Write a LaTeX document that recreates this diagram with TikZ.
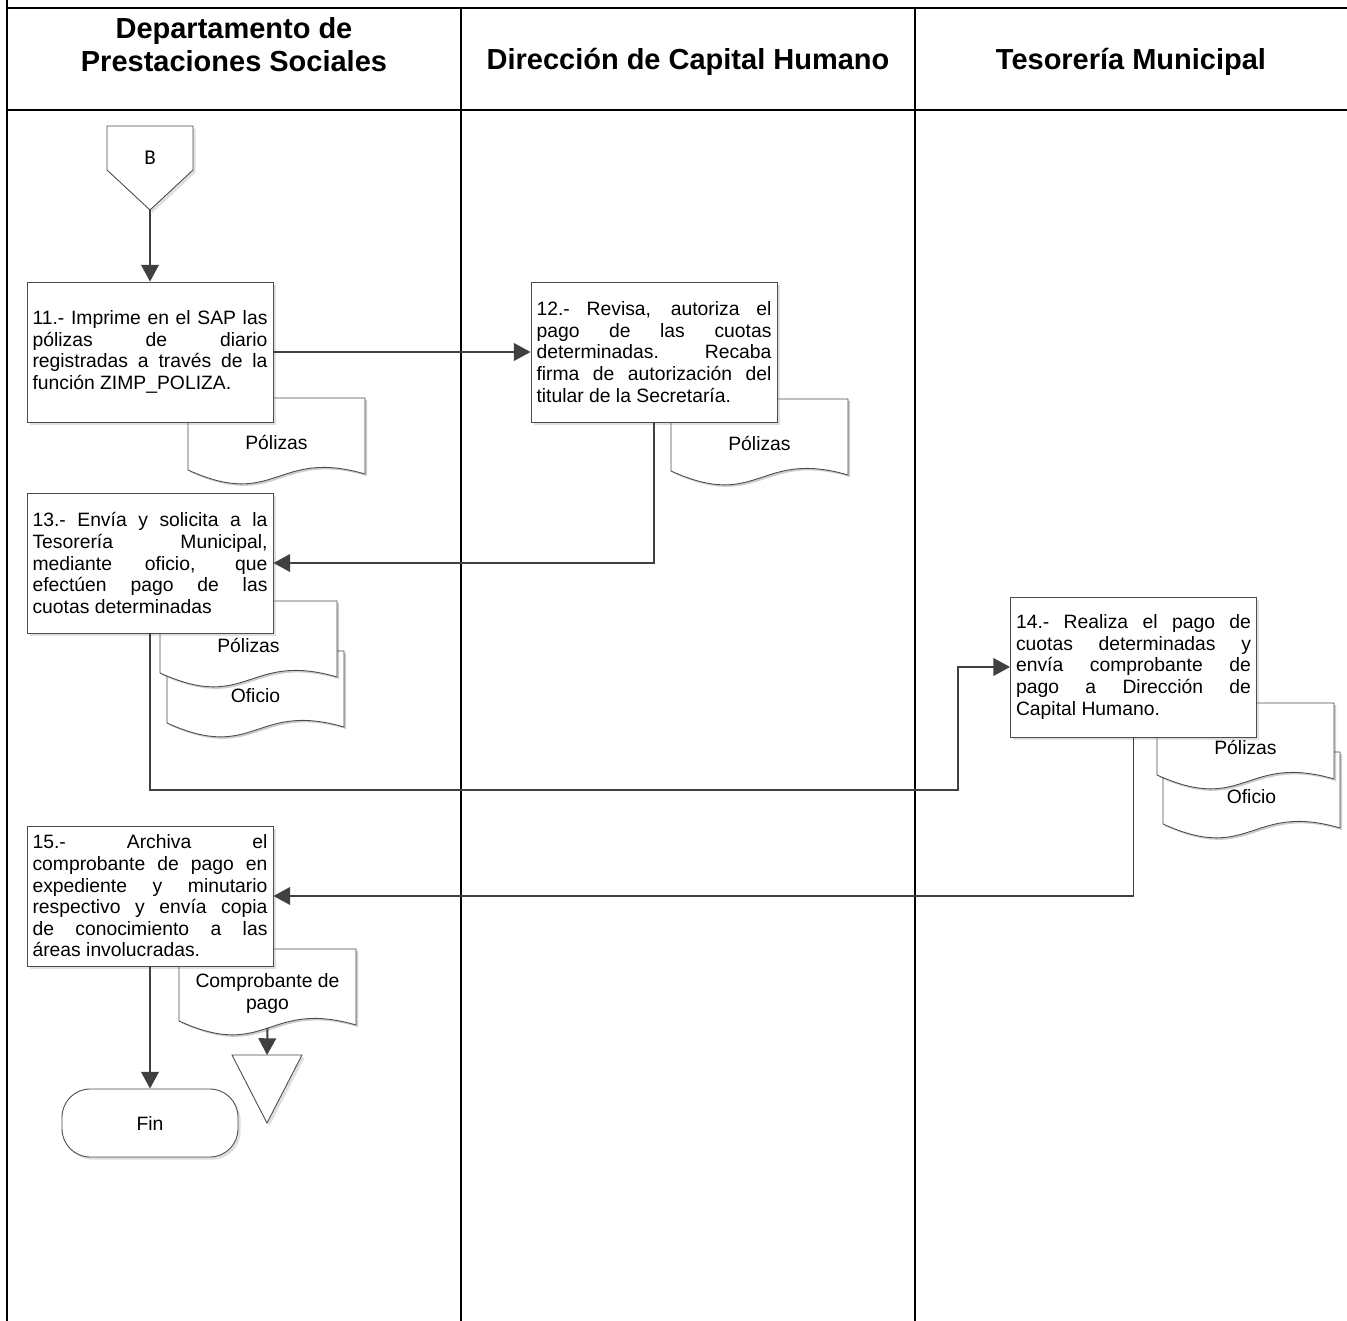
\documentclass[tikz,border=0pt]{standalone}
\usepackage{fontspec}
\setmainfont{Liberation Sans}
\newfontfamily\conectorfont{Carlito}
\usetikzlibrary{arrows.meta,shadows}
\tolerance=10000
\hbadness=10000
% documento: nombre, esquina superior izquierda, texto
\newcommand{\documento}[3]{%
  \begin{scope}[shift={#2}]
    \fill[black,opacity=0.2] (2,2) -- (179,2) -- (179,78)
      .. controls (90,52) and (90,114) .. (2,74) -- cycle;
    \draw[docborde] (0,0) -- (177,0) -- (177,76)
      .. controls (88,50) and (88,112) .. (0,72) -- cycle;
    \node[doctexto] (#1) at (88.5,44.5) {#3};
    \coordinate (#1-base) at (88.5,79);
  \end{scope}}

\begin{document}
\begin{tikzpicture}[x=0.02cm,y=-0.02cm,>=Stealth,
  marco/.style={line width=1.4pt,black},
  cabeza/.style={align=center,font=\fontsize{16.5}{18.7}\selectfont\bfseries},
  sombra/.style={drop shadow={shadow xshift=1.5pt,shadow yshift=-1.5pt,opacity=0.25}},
  forma/.style={draw=black!70,line width=0.5pt,fill=white,sombra},
  paso/.style={forma,rectangle,minimum width=4.92cm,minimum height=2.8cm,
    text width=4.70cm,inner sep=0.11cm,align=justify,
    font=\fontsize{11}{12.3}\selectfont},
  docborde/.style={draw=black!70,line width=0.5pt,fill=white},
  doctexto/.style={inner sep=1pt,align=center,font=\fontsize{11}{12.3}\selectfont},
  fin/.style={forma,rectangle,rounded corners=16pt,minimum width=3.52cm,
    minimum height=1.36cm,font=\fontsize{11}{12.3}\selectfont},
  flujo/.style={draw=black!75,line width=1.1pt,-{Triangle[length=9.5pt,width=10pt]}}]
\useasboundingbox (0,0) rectangle (1347,1321);
% ---------- carriles ----------
\draw[marco] (7,0) -- (7,1321);
\draw[marco] (7,8) -- (1347,8);
\draw[marco] (7,110) -- (1347,110);
\draw[marco] (461,8) -- (461,1321);
\draw[marco] (915,8) -- (915,1321);
\node[cabeza] (carril1) at (234,45) {Departamento de\\Prestaciones Sociales};
\node[cabeza] (carril2) at (688,62) {Dirección de Capital Humano};
\node[cabeza] (carril3) at (1131,62) {Tesorería Municipal};
% ---------- conector B ----------
\draw[forma] (107,126) -- (193,126) -- (193,170) -- (150,210) -- (107,170) -- cycle;
\node[font=\conectorfont\fontsize{12}{13}\selectfont] (conB) at (150,158) {B};
\coordinate (conBpunta) at (150,210);
% ---------- documentos ----------
\documento{pol11}{(188,398)}{Pólizas}
\documento{pol12}{(671,399)}{Pólizas}
\documento{ofi13}{(167,651)}{Oficio}
\documento{pol13}{(160,601)}{Pólizas}
\documento{ofi14}{(1163,752)}{Oficio}
\documento{pol14}{(1157,703)}{Pólizas}
\documento{comp15}{(179,949)}{Comprobante de\\pago}
% ---------- pasos ----------
\node[paso] (b11) at (150,352) {11.- Imprime en el SAP las\linebreak
  pólizas de diario\linebreak registradas a través de la\linebreak
  función ZIMP\_POLIZA.};
\node[paso] (b12) at (654,352) {12.- Revisa, autoriza el\linebreak
  pago de las cuotas\linebreak determinadas. Recaba\linebreak
  firma de autorización del\linebreak titular de la Secretaría.};
\node[paso] (b13) at (150,563) {13.- Envía y solicita a la\linebreak
  Tesorería Municipal,\linebreak mediante oficio, que\linebreak
  efectúen pago de las\linebreak cuotas determinadas};
\node[paso] (b14) at (1133.5,667) {14.- Realiza el pago de\linebreak
  cuotas determinadas y\linebreak envía comprobante de\linebreak
  pago a Dirección de\linebreak Capital Humano.};
\node[paso] (b15) at (150,896) {15.- Archiva el\linebreak
  comprobante de pago en\linebreak expediente y minutario\linebreak
  respectivo y envía copia\linebreak de conocimiento a las\linebreak
  áreas involucradas.};
\node[fin] (fin) at (150,1123) {Fin};
% archivo
\draw[forma] (232,1055) -- (302,1055) -- (267,1123) -- cycle;
\coordinate (arch) at (267,1055);
% ---------- flujo ----------
\coordinate (k13) at (958,790);
\draw[flujo] (conBpunta) -- (b11.north);
\draw[flujo] (b11.east) -- (b12.west);
\draw[flujo] (b12.south) |- (b13.east);
\draw[flujo] (b13.south) |- (k13) |- (b14.west);
\draw[flujo] (b14.south) |- (b15.east);
\draw[flujo] (b15.south) -- (fin.north);
\draw[flujo] (comp15-base) -- (arch);
\end{tikzpicture}
\end{document}
